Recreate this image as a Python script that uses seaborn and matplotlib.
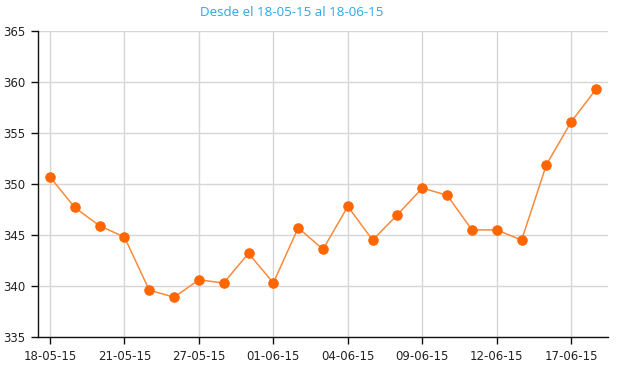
import numpy as np
import pandas as pd
import seaborn as sns
import matplotlib.pyplot as plt

# daily values, 18-05-15 .. 18-06-15 (business days)
fechas = ['18-05-15', '19-05-15', '20-05-15', '21-05-15', '22-05-15',
          '26-05-15', '27-05-15', '28-05-15', '29-05-15', '01-06-15',
          '02-06-15', '03-06-15', '04-06-15', '05-06-15', '08-06-15',
          '09-06-15', '10-06-15', '11-06-15', '12-06-15', '15-06-15',
          '16-06-15', '17-06-15', '18-06-15']
valores = [350.7, 347.7, 345.9, 344.8, 339.6, 338.9, 340.6, 340.3, 343.2,
           340.3, 345.7, 343.6, 347.8, 344.5, 347.0, 349.6, 348.9, 345.5,
           345.5, 344.5, 351.9, 356.1, 359.3]
y_ticks = [335, 340, 345, 350, 355, 360, 365]

df = pd.DataFrame({'idx': np.arange(len(fechas)), 'fecha': fechas,
                   'valor': valores})

sns.set_theme(style='white')
plt.rcParams['font.family'] = ['DejaVu Sans']

fig = plt.figure(figsize=(6.2, 3.75), dpi=100)
ax = fig.add_axes([38 / 620, 1 - 337 / 375, 570 / 620, 306 / 375])

sns.lineplot(data=df, x='idx', y='valor', ax=ax, color='#f98a3c',
             linewidth=1.1, marker='o', markersize=6.8,
             markerfacecolor='#ff6600', markeredgecolor='#ff6600')

tick_idx = df['idx'][::3]
ax.set_xticks(tick_idx)
ax.set_xticklabels(df['fecha'][::3])
ax.set_yticks(y_ticks)
ax.set_xlim(-0.48, 22.48)
ax.set_ylim(335, 365)
ax.set_xlabel('')
ax.set_ylabel('')

ax.grid(True, color='#d6d6d6', linewidth=1)
ax.set_axisbelow(True)
for s in ['top', 'right']:
    ax.spines[s].set_visible(False)
for s in ['left', 'bottom']:
    ax.spines[s].set_color('#111111')
    ax.spines[s].set_linewidth(1)
ax.tick_params(axis='both', length=5, width=1, color='#111111',
               labelsize=8.5, labelcolor='#222222', pad=4, bottom=True,
               left=True, direction='out')

fig.text(291.5 / 620, 1 - 13 / 375, 'Desde el 18-05-15 al 18-06-15',
         ha='center', va='center', fontsize=9.6, color='#2ca6e8',
         family=['Open Sans', 'DejaVu Sans'])

fig.savefig('out.png', dpi=100)
